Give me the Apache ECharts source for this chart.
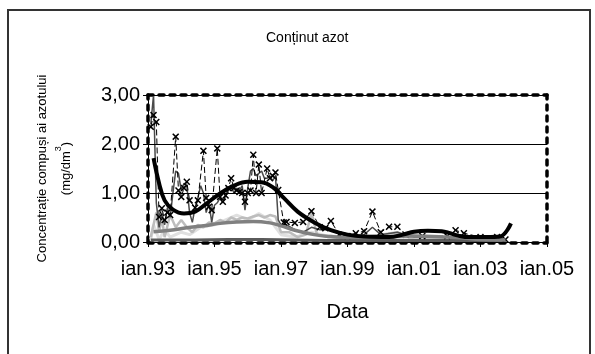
<!DOCTYPE html>
<html>
<head>
<meta charset="utf-8">
<script src="https://cdn.jsdelivr.net/npm/echarts@6/dist/echarts.min.js"></script>
<style>
  html, body { margin: 0; padding: 0; background: #fff; }
  #chart { width: 595px; height: 354px; }
</style>
</head>
<body>
<div id="chart"></div>
<script>
// axa X: luni de la ian.93
const tickLabels = ['ian.93', 'ian.95', 'ian.97', 'ian.99', 'ian.01', 'ian.03', 'ian.05'];

// serie bruta, negru cu x
const rawADates = ['1993-02','1993-03','1993-04','1993-05','1993-06','1993-07','1993-08','1993-09','1993-11','1993-12',
  '1994-01','1994-02','1994-03','1994-04','1994-06','1994-07','1994-09','1994-10','1994-11','1994-12',
  '1995-02','1995-03','1995-04','1995-05','1995-06','1995-07','1995-08','1995-09','1995-10','1995-11','1995-12',
  '1996-01','1996-02','1996-03','1996-04','1996-05','1996-06','1996-08','1996-09','1996-10','1996-11','1996-12',
  '1997-02','1997-03','1997-06','1997-09','1997-12','1998-03','1998-05','1998-07','1998-10',
  '1999-01','1999-04','1999-07','1999-10','2000-01','2000-04','2000-07','2000-10','2001-04',
  '2002-01','2002-04','2002-07','2003-01','2003-07','2003-10'];
const rawAValues = [2.35,2.59,2.45,0.51,0.69,0.45,0.60,0.55,2.15,1.05,
  0.92,1.10,1.23,0.85,0.70,0.85,1.86,0.90,0.72,0.65,
  1.91,0.92,0.82,0.95,1.10,1.30,1.10,1.05,1.02,1.00,0.82,
  1.00,1.05,1.78,1.00,1.58,1.00,1.50,1.30,1.35,1.42,1.06,
  0.40,0.41,0.39,0.41,0.63,0.30,0.28,0.43,0.15,
  0.12,0.18,0.22,0.62,0.20,0.31,0.31,0.15,0.12,
  0.12,0.24,0.18,0.10,0.10,0.05];

// serie bruta, gri inchis
const rawBDates = ['1993-02','1993-03','1993-04','1993-05','1993-06','1993-07','1993-08','1993-09','1993-10','1993-11','1993-12',
  '1994-01','1994-02','1994-03','1994-04','1994-05','1994-06','1994-07','1994-08','1994-09','1994-10','1994-11','1994-12',
  '1995-01','1995-02','1995-03','1995-04','1995-05','1995-06','1995-07','1995-08','1995-09','1995-10','1995-11','1995-12',
  '1996-01','1996-02','1996-03','1996-04','1996-05','1996-06','1996-07','1996-08','1996-09','1996-10','1996-11','1996-12',
  '1997-01','1997-03','1997-06','1997-09','1997-12','1998-03','1998-07','1998-10',
  '1999-01','1999-07','1999-10','2000-01','2000-07','2001-01','2002-01','2002-07','2003-01','2003-09'];
const rawBValues = [2.40,3.00,0.80,0.30,0.60,0.35,0.70,0.50,1.00,1.45,1.40,
  1.05,1.20,1.15,0.60,0.40,0.70,0.90,1.15,1.00,0.60,0.80,0.40,
  0.75,0.80,0.90,0.80,0.95,1.05,1.15,1.00,1.10,1.05,1.15,0.65,
  1.10,1.45,1.50,1.35,1.40,1.45,1.30,1.30,1.35,1.25,1.35,0.45,
  0.35,0.35,0.25,0.20,0.30,0.25,0.25,0.20,
  0.10,0.15,0.30,0.15,0.20,0.10,0.10,0.10,0.10,0.10];

// serie bruta, gri deschis
const rawCDates = ['1993-02','1993-04','1993-05','1993-06','1993-07','1993-09','1993-11',
  '1994-01','1994-03','1994-05','1994-07','1994-09','1994-11',
  '1995-01','1995-03','1995-05','1995-07','1995-09','1995-11',
  '1996-01','1996-03','1996-05','1996-07','1996-09','1996-11',
  '1997-01','1997-04','1997-07','1997-10','1997-12','1998-02','1998-06','1998-10',
  '1999-06','2000-01','2000-07','2001-01','2002-01','2002-10','2003-06'];
const rawCValues = [0.10,0.60,0.20,0.50,0.10,0.55,0.30,
  0.45,0.30,0.20,0.35,0.30,0.40,
  0.38,0.45,0.40,0.50,0.45,0.50,
  0.48,0.52,0.55,0.50,0.55,0.52,
  0.20,0.20,0.10,0.15,0.60,0.15,0.10,0.08,
  0.10,0.15,0.20,0.05,0.05,0.05,0.05];

// serie bruta, gri foarte deschis
const rawDDates = ['1993-02','1993-03','1993-05','1993-07','1993-09','1994-01','1994-04','1994-08',
  '1995-01','1995-05','1995-09','1996-01','1996-05','1996-09','1997-01','1997-06','1997-12',
  '1998-06','1999-06','2000-06','2001-06','2002-06','2003-06'];
const rawDValues = [0.05,0.35,0.05,0.25,0.10,0.20,0.15,0.30,
  0.35,0.45,0.55,0.45,0.58,0.45,0.15,0.10,0.20,
  0.12,0.08,0.10,0.05,0.05,0.05];

// tendinte netezite
const trendBlackDates = ['1993-03','1993-05','1993-07','1993-10','1994-02','1994-06','1994-10','1995-03','1995-08',
  '1996-01','1996-06','1996-10','1997-02','1997-07','1998-01','1998-07','1999-01','1999-07','2000-04','2000-09',
  '2001-01','2001-06','2001-11','2002-02','2002-05','2002-09','2003-03','2003-08','2003-12'];
const trendBlackValues = [1.71,1.20,0.85,0.66,0.58,0.62,0.78,0.99,1.15,
  1.23,1.22,1.12,0.90,0.62,0.40,0.24,0.15,0.11,0.10,0.15,
  0.21,0.23,0.22,0.18,0.13,0.10,0.10,0.11,0.38];

const trendGrayDates = ['1993-03','1993-09','1994-03','1994-09','1995-03','1995-09','1996-03','1996-09','1997-01','1997-06',
  '1998-01','1998-07','1999-01','2000-01','2001-01','2002-01','2002-07','2003-01','2003-10'];
const trendGrayValues = [0.21,0.24,0.29,0.33,0.38,0.41,0.42,0.39,0.33,0.24,
  0.15,0.11,0.09,0.10,0.12,0.10,0.08,0.05,0.04];

const bottomDates = ['1993-02','1994-06','1995-06','1996-06','1997-06','1998-06','1999-06','2000-06','2001-06','2002-06','2003-10'];
const bottomValues = [0.04,0.04,0.05,0.05,0.04,0.03,0.03,0.03,0.03,0.03,0.02];

const toMonths = d => {
  const [y, m] = d.split('-').map(Number);
  return (y - 1993) * 12 + (m - 1);
};
const pairs = (dates, vals) => dates.map((d, i) => [toMonths(d), vals[i]]);

const FONT = 'Liberation Sans';
const crossSymbol = 'path://M0,1.5L1.5,0L5,3.5L8.5,0L10,1.5L6.5,5L10,8.5L8.5,10L5,6.5L1.5,10L0,8.5L3.5,5Z';
const dashedFrame = { show: true, onZero: false, lineStyle: { color: '#000', width: 3.5, type: [5, 6] } };

const myChart = echarts.init(document.getElementById('chart'), null, { renderer: 'canvas' });

const option = {
  animation: false,
  backgroundColor: '#fff',
  textStyle: { fontFamily: FONT, color: '#000' },
  title: {
    text: 'Conținut azot',
    left: 261,
    top: 26,
    textStyle: { fontFamily: FONT, fontSize: 14, fontWeight: 'normal', color: '#000' }
  },
  graphic: [{
    type: 'rect',
    shape: { x: 8, y: 10, width: 582, height: 400 },
    style: { fill: 'none', stroke: '#333', lineWidth: 2 },
    silent: true
  }],
  grid: { left: 148, right: 48, top: 95, bottom: 112 },
  xAxis: [{
    type: 'value',
    min: 0, max: 144, interval: 24,
    name: 'Data',
    nameLocation: 'middle',
    nameGap: 60,
    nameTextStyle: { fontFamily: FONT, fontSize: 20, color: '#000' },
    axisLine: { show: true, onZero: false, lineStyle: { color: '#000', width: 1 } },
    axisTick: { show: true, inside: false, length: 5, lineStyle: { color: '#000' } },
    axisLabel: {
      margin: 17, fontFamily: FONT, fontSize: 20, color: '#000',
      formatter: v => tickLabels[Math.round(v / 24)]
    },
    splitLine: { show: false },
    z: 5
  }, {
    type: 'value', position: 'top', min: 0, max: 144,
    axisLine: dashedFrame, axisTick: { show: false }, axisLabel: { show: false }, splitLine: { show: false }
  }, {
    type: 'value', position: 'bottom', min: 0, max: 144, offset: 1,
    axisLine: dashedFrame, axisTick: { show: false }, axisLabel: { show: false }, splitLine: { show: false }, z: 1
  }],
  yAxis: [{
    type: 'value',
    min: 0, max: 3, interval: 1,
    name: 'Concentrație compuși ai azotului\n{b|(mg/dm}{s|3}{b|)}',
    nameLocation: 'middle',
    nameRotate: 90,
    nameGap: 70,
    nameTextStyle: {
      fontFamily: FONT, fontSize: 13, color: '#000', lineHeight: 24,
      rich: {
        b: { fontFamily: FONT, fontSize: 13, color: '#000', lineHeight: 24 },
        s: { fontFamily: FONT, fontSize: 9, color: '#000', verticalAlign: 'top', lineHeight: 14 }
      }
    },
    axisLine: { show: true, onZero: false, lineStyle: { color: '#000', width: 1 } },
    axisTick: { show: true, inside: false, length: 5, lineStyle: { color: '#000' } },
    axisLabel: {
      margin: 8, fontFamily: FONT, fontSize: 20, color: '#000',
      formatter: v => v.toFixed(2).replace('.', ',')
    },
    splitLine: { show: true, lineStyle: { color: '#000', width: 1 } },
    z: 5
  }, {
    type: 'value', position: 'right', min: 0, max: 3,
    axisLine: dashedFrame, axisTick: { show: false }, axisLabel: { show: false }, splitLine: { show: false }
  }, {
    type: 'value', position: 'left', min: 0, max: 3,
    axisLine: dashedFrame, axisTick: { show: false }, axisLabel: { show: false }, splitLine: { show: false }, z: 1
  }],
  series: [{
    name: 'D', type: 'line', data: pairs(rawDDates, rawDValues),
    showSymbol: false, lineStyle: { color: '#e0e0e0', width: 3 }, z: 2
  }, {
    name: 'C', type: 'line', data: pairs(rawCDates, rawCValues),
    showSymbol: false, lineStyle: { color: '#bdbdbd', width: 2.5 }, z: 2
  }, {
    name: 'B', type: 'line', data: pairs(rawBDates, rawBValues),
    showSymbol: false, lineStyle: { color: '#4a4a4a', width: 1.5 }, z: 2
  }, {
    name: 'A', type: 'line', data: pairs(rawADates, rawAValues),
    symbol: crossSymbol, symbolSize: 7,
    itemStyle: { color: '#000' },
    lineStyle: { color: '#000', width: 1, type: [6, 3] }, z: 3
  }, {
    name: 'Jos', type: 'line', data: pairs(bottomDates, bottomValues),
    showSymbol: false, lineStyle: { color: '#5a5a5a', width: 3 }, z: 3
  }, {
    name: 'Tendinta gri', type: 'line', data: pairs(trendGrayDates, trendGrayValues),
    smooth: 0.4, showSymbol: false, lineStyle: { color: '#808080', width: 3.5 }, z: 4
  }, {
    name: 'Tendinta neagra', type: 'line', data: pairs(trendBlackDates, trendBlackValues),
    smooth: 0.4, showSymbol: false, lineStyle: { color: '#000', width: 4 }, z: 4
  }]
};

myChart.setOption(option);
</script>
</body>
</html>
